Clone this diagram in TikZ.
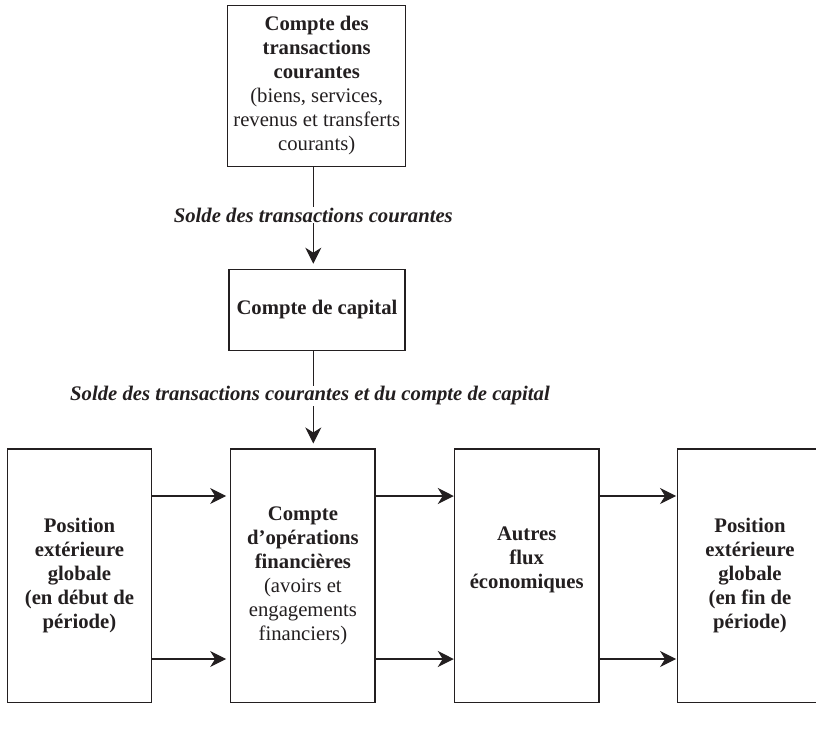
\documentclass[tikz,border=0pt]{standalone}
\usepackage{fontspec}
\setmainfont{Liberation Serif}
\usetikzlibrary{arrows.meta}
\definecolor{ink}{HTML}{231F20}
\begin{document}
\begin{tikzpicture}[x=1pt,y=-1pt, line width=1.2pt, color=ink,
  box/.style={draw=ink, rectangle, align=center, inner sep=0pt, text=ink,
    font=\fontsize{20.7}{24}\selectfont},
  txt/.style={align=center, inner sep=0pt, text=ink, font=\fontsize{20.7}{24}\selectfont},
  lab/.style={fill=white, inner sep=1pt, text=ink, font=\fontsize{20.7}{24}\selectfont\bfseries\itshape},
  arr/.style={draw=ink, -{Stealth[length=16pt,width=16pt,inset=5pt]}}]
\useasboundingbox (0,0) rectangle (816,731);

\node[box, minimum width=178pt, minimum height=161.4pt] (cc) at (316.7,86)
  {\textbf{Compte des}\\\textbf{transactions}\\\textbf{courantes}\\(biens, services,\\revenus et transferts\\courants)};
\node[box, minimum width=176pt, minimum height=81.4pt] (cap) at (317,310)
  {\textbf{Compte de capital}};

\node[box, minimum width=144.4pt, minimum height=253.3pt] (p1) at (79.5,575.7)
  {\textbf{Position}\\\textbf{extérieure}\\\textbf{globale}\\\textbf{(en début de}\\\textbf{période)}};
\node[box, minimum width=144.3pt, minimum height=253.3pt] (cf) at (302.9,575.7)
  {\textbf{Compte}\\\textbf{d’opérations}\\\textbf{financières}\\(avoirs et\\engagements\\financiers)};
\node[box, minimum width=144.7pt, minimum height=253.3pt] (af) at (526.7,575.7) {};
\node[txt] (aft) at ([yshift=16pt]af.center)
  {\textbf{Autres}\\\textbf{flux}\\\textbf{économiques}};
\node[box, minimum width=144.7pt, minimum height=253.3pt] (p2) at (750,575.7)
  {\textbf{Position}\\\textbf{extérieure}\\\textbf{globale}\\\textbf{(en fin de}\\\textbf{période)}};

\coordinate (ax) at (313.3,0);
\coordinate (r1) at (0,496);
\coordinate (r2) at (0,659);

\draw[arr, shorten >=5pt] (cc.south -| ax) -- (cap.north -| ax);
\draw[arr, shorten >=5pt] (cap.south -| ax) -- (cf.north -| ax);

\node[lab] (l1) at (313.3,215) {Solde des transactions courantes};
\node[lab] (l2) at (310,396) {Solde des transactions courantes et du compte de capital};

\draw[arr, shorten >=4pt] (p1.east |- r1) -- (cf.west |- r1);
\draw[arr, shorten >=4pt] (p1.east |- r2) -- (cf.west |- r2);
\draw[arr] (cf.east |- r1) -- (af.west |- r1);
\draw[arr] (cf.east |- r2) -- (af.west |- r2);
\draw[arr, shorten >=1pt] (af.east |- r1) -- (p2.west |- r1);
\draw[arr, shorten >=1pt] (af.east |- r2) -- (p2.west |- r2);
\end{tikzpicture}
\end{document}
